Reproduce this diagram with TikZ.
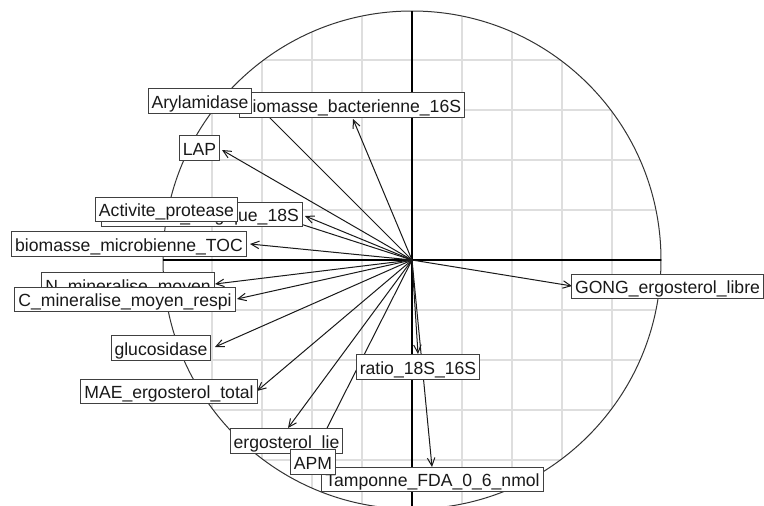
\documentclass[tikz,border=0pt]{standalone}
\usepackage{fontspec}
\setmainfont{Liberation Sans}
\usetikzlibrary{arrows.meta}

\begin{document}
\begin{tikzpicture}[x=1pt,y=-1pt,
  lbl/.style={draw=black!75, fill=white, line width=1pt, text=black!90,
    font=\fontsize{17.6}{20}\selectfont, inner xsep=3.5pt, inner ysep=3.5pt,
    text height=16pt, text depth=1.5pt},
  vec/.style={draw=black!90, line width=1pt,
    -{Straight Barb[length=8pt,width=7.5pt]}},
  axisline/.style={black, line width=1.1pt},
  gridline/.style={black!13, line width=1.4pt},
  ring/.style={black!80, line width=1pt},
]
\useasboundingbox (0,0) rectangle (764,506);
\fill[white] (0,0) rectangle (764,506);

\coordinate (O) at (412,260);

% background grid, kept inside the correlation circle
\begin{scope}
  \clip (O) circle [radius=249pt];
  \foreach \k in {-5,...,5} {
    \draw[gridline] (412+50*\k,0) -- (412+50*\k,520);
    \draw[gridline] (150,260+50*\k) -- (680,260+50*\k);
  }
\end{scope}

% correlation circle and axes
\draw[ring] (O) circle [radius=249pt];
\coordinate (xl) at (163,260);
\coordinate (xr) at (661,260);
\coordinate (yt) at (412,11);
\coordinate (yb) at (412,506);
\draw[axisline] (xl) -- (xr);
\draw[axisline] (yt) -- (yb);

% variable loadings
\coordinate (pBac) at (353,119);
\coordinate (pAry) at (258,106);
\coordinate (pLap) at (222,150);
\coordinate (pFon) at (305,216);
\coordinate (pPro) at (285,219);
\coordinate (pToc) at (250,244);
\coordinate (pNmin) at (215,284);
\coordinate (pCmin) at (237,299);
\coordinate (pGlu) at (215,347);
\coordinate (pMae) at (257,391);
\coordinate (pLie) at (288,428);
\coordinate (pApm) at (318,446);
\coordinate (pRat) at (418,354);
\coordinate (pTam) at (432,467);
\coordinate (pGong) at (572,286);

\foreach \p in {pBac,pAry,pLap,pFon,pPro,pToc,pNmin,pCmin,pGlu,pMae,pLie,pApm,pRat,pTam,pGong}
  \draw[vec] (O) -- (\p);

% variable labels (later ones sit on top of earlier ones)
\node[lbl] (lBac) at (352,105) {biomasse\_bacterienne\_16S};
\node[lbl] (lAry) at (200,101) {Arylamidase};
\node[lbl] (lLap) at (199.5,148) {LAP};
\node[lbl] (lFon) at (202,214.5) {biomasse\_fongique\_18S};
\node[lbl] (lPro) at (166.5,209.5) {Activite\_protease};
\node[lbl] (lToc) at (129,244) {biomasse\_microbienne\_TOC};
\node[lbl] (lNmin) at (128,285) {N\_mineralise\_moyen};
\node[lbl] (lCmin) at (125,299.5) {C\_mineralise\_moyen\_respi};
\node[lbl] (lGlu) at (161,348) {glucosidase};
\node[lbl] (lMae) at (169,391.5) {MAE\_ergosterol\_total};
\node[lbl] (lLie) at (286.5,441) {ergosterol\_lie};
\node[lbl] (lTam) at (432.5,479.5) {Tamponne\_FDA\_0\_6\_nmol};
\node[lbl] (lApm) at (313,462) {APM};
\node[lbl] (lRat) at (418,367) {ratio\_18S\_16S};
\node[lbl] (lGong) at (667.5,286.5) {GONG\_ergosterol\_libre};
\end{tikzpicture}
\end{document}
